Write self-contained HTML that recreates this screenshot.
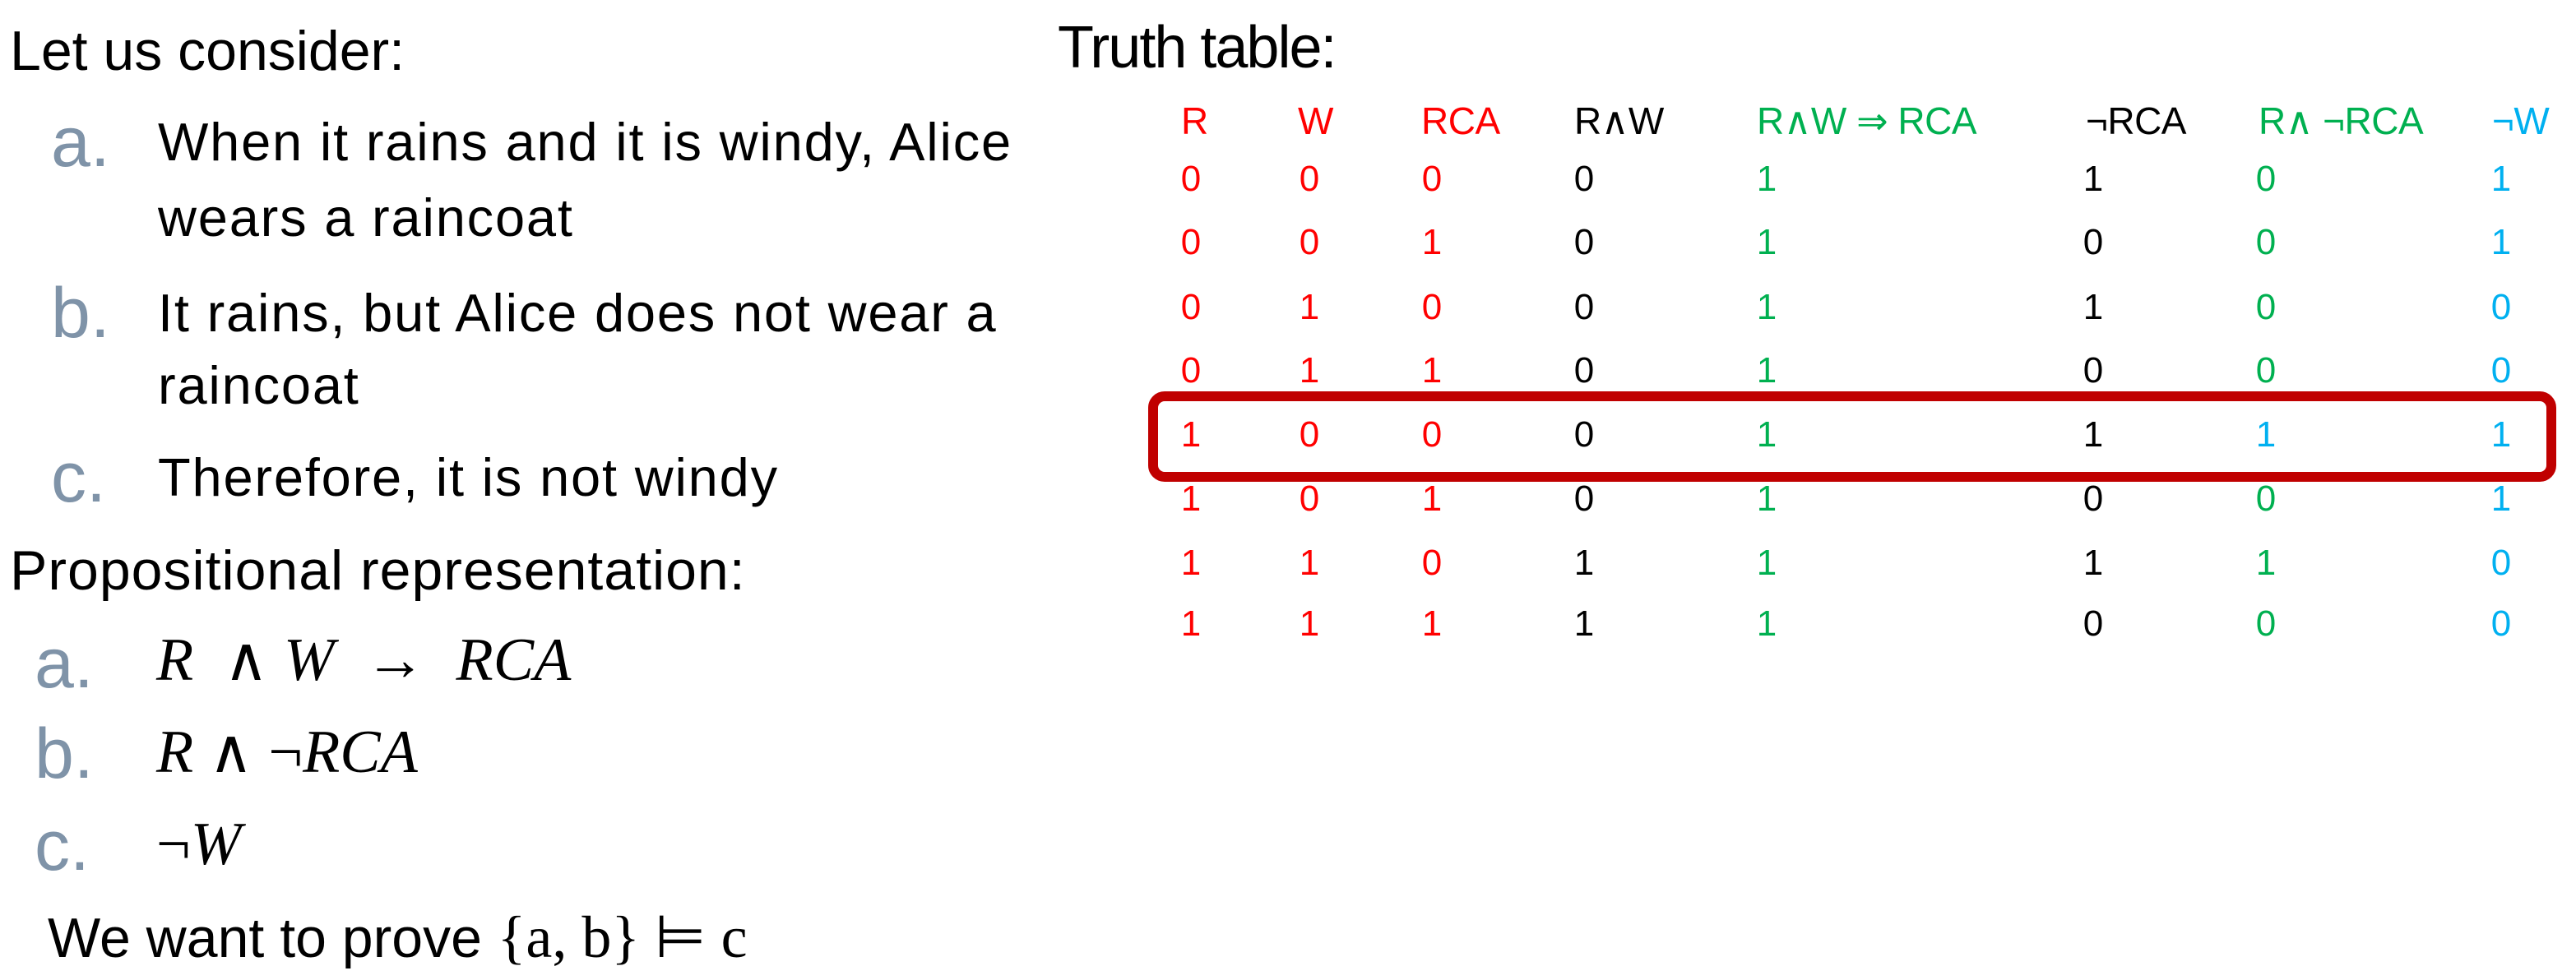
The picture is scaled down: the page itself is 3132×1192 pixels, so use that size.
<!DOCTYPE html>
<html><head><meta charset="utf-8"><style>
html,body{margin:0;padding:0;background:#fff;}
body{width:3132px;height:1192px;position:relative;overflow:hidden;font-family:"Liberation Sans","DejaVu Sans",sans-serif;}
.t{position:absolute;white-space:nowrap;line-height:1;}
.big{font-size:68px;color:#000;letter-spacing:0px;}
.it{font-size:65px;color:#000;letter-spacing:1.8px;}
.mk{font-size:86px;color:#7f93a8;}
.m{font-family:"Liberation Serif",serif;font-style:italic;font-size:74px;color:#000;}
.h{font-size:46px;letter-spacing:-0.5px;}
.d{font-size:44px;transform:translateX(-50%);}
.r{color:#ff0000}.k{color:#000}.g{color:#00b050}.b{color:#00b0f0}
.ns{font-style:normal;}
</style></head><body>
<div class="t big" style="left:12px;top:28px">Let us consider:</div>
<div class="t mk" style="left:62px;top:130px">a.</div>
<div class="t it" style="left:192px;top:140px">When it rains and it is windy, Alice</div>
<div class="t it" style="left:192px;top:232px">wears a raincoat</div>
<div class="t mk" style="left:62px;top:338px">b.</div>
<div class="t it" style="left:192px;top:348px">It rains, but Alice does not wear a</div>
<div class="t it" style="left:192px;top:436px">raincoat</div>
<div class="t mk" style="left:62px;top:538px">c.</div>
<div class="t it" style="left:192px;top:548px">Therefore, it is not windy</div>
<div class="t big" style="left:12px;top:660px;letter-spacing:1px">Propositional representation:</div>
<div class="t mk" style="left:42px;top:764px">a.</div>
<div class="t m" style="left:190px;top:766px">R&nbsp;&nbsp;<span class="ns">∧</span>&nbsp;W&nbsp;&nbsp;<span class="ns">→</span>&nbsp;&nbsp;RCA</div>
<div class="t mk" style="left:42px;top:874px">b.</div>
<div class="t m" style="left:190px;top:878px">R <span class="ns">∧</span> <span class="ns">¬</span>RCA</div>
<div class="t mk" style="left:42px;top:986px">c.</div>
<div class="t m" style="left:190px;top:990px"><span class="ns">¬</span>W</div>
<div class="t big" style="left:58px;top:1104px">We want to prove <span style="font-family:'Liberation Serif',serif;font-size:72px">{a, b} ⊨ c</span></div>

<div class="t big" style="left:1286px;top:22px;font-size:72px;letter-spacing:-2px">Truth table:</div>
<div class="t h r" style="left:1436px;top:124px">R</div>
<div class="t h r" style="left:1578px;top:124px">W</div>
<div class="t h r" style="left:1728px;top:124px">RCA</div>
<div class="t h k" style="left:1914px;top:124px">R∧W</div>
<div class="t h g" style="left:2136px;top:124px">R∧W ⇒ RCA</div>
<div class="t h k" style="left:2536px;top:124px">¬RCA</div>
<div class="t h g" style="left:2746px;top:124px">R∧ ¬RCA</div>
<div class="t h b" style="left:3030px;top:124px">¬W</div>

<div id="rows"></div>
<div style="position:absolute;left:1396px;top:476px;width:1688px;height:86px;border:12px solid #c00000;border-radius:20px;"></div>
<script>
var cols=[1448,1592,1741,1926,2148,2545,2755,3041];
var cls=['r','r','r','k','g','k','g','b'];
var ys=[218,295,374,451,529,607,685,759];
var data=[
"00001101","00101001","01001100","01101000",
"10001111","10101001","11011110","11111000"];
var out='';
for(var i=0;i<8;i++){for(var j=0;j<8;j++){
 var c=cls[j]; if(i==4&&j==6)c='b';
 out+='<div class="t d '+c+'" style="left:'+cols[j]+'px;top:'+(ys[i]-22)+'px">'+data[i][j]+'</div>';
}}
document.getElementById('rows').innerHTML=out;
</script>
</body></html>
